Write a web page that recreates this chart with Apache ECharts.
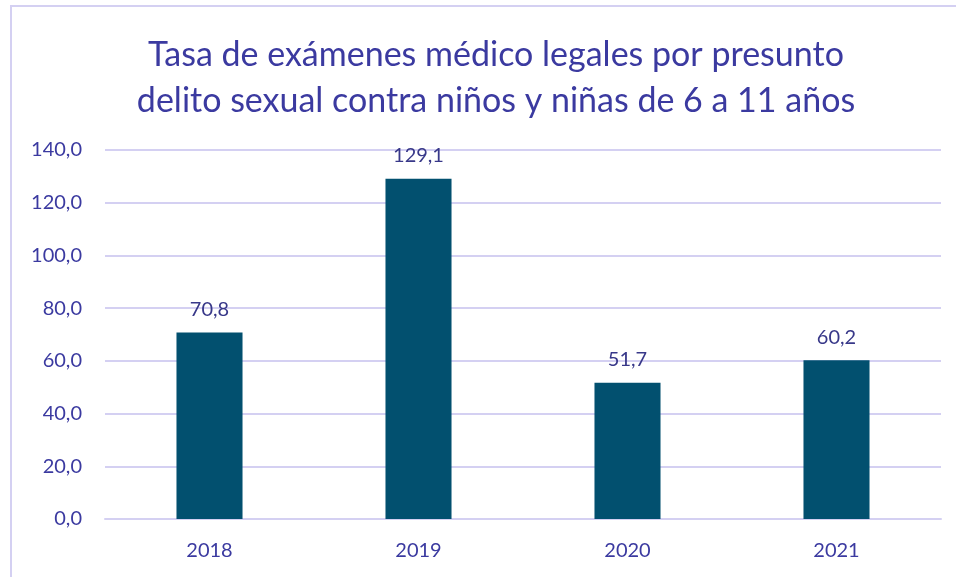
<!DOCTYPE html>
<html>
<head>
<meta charset="utf-8">
<script src="https://cdn.jsdelivr.net/npm/echarts@6/dist/echarts.min.js"></script>
<style>
  html, body { margin: 0; padding: 0; background: #fff; overflow: hidden; }
  #frame { position: absolute; left: 10px; top: 5px; width: 960px; height: 600px; border-top: 2px solid #D4D0F2; border-left: 2px solid #D4D0F2; }
  #main { position: absolute; left: 0; top: 0; width: 956px; height: 577px; }
</style>
</head>
<body>
<div id="frame"></div>
<div id="main"></div>
<script>
var years = ['2018', '2019', '2020', '2021'];
var rates = [70.8, 129.1, 51.7, 60.2];
var titleLines = ['Tasa de exámenes médico legales por presunto', 'delito sexual contra niños y niñas de 6 a 11 años'];

var textColor = '#3B3AA0';
var fmt = function (v) { return Number(v).toFixed(1).replace('.', ','); };

var myChart = echarts.init(document.getElementById('main'));
var option = {
    animation: false,
    title: {
        text: titleLines.join('\n'),
        left: 491,
        top: 27,
        textAlign: 'center',
        textStyle: {
            color: textColor,
            fontFamily: 'Lato',
            fontWeight: 'normal',
            fontSize: 34,
            lineHeight: 46
        }
    },
    grid: {
        left: 105,
        right: 15,
        top: 150,
        bottom: 58
    },
    xAxis: {
        type: 'category',
        data: years,
        axisLine: { lineStyle: { color: '#D4D0F2', width: 2 } },
        axisTick: { show: false },
        axisLabel: { color: textColor, fontFamily: 'Lato', fontSize: 20, margin: 22 }
    },
    yAxis: {
        type: 'value',
        min: 0,
        max: 140,
        interval: 20,
        axisLine: { show: false },
        axisTick: { show: false },
        splitLine: { lineStyle: { color: '#D4D0F2', width: 2 } },
        axisLabel: { color: textColor, fontFamily: 'Lato', fontSize: 20, margin: 23, formatter: fmt }
    },
    series: [{
        type: 'bar',
        data: rates,
        barWidth: '31.6%',
        itemStyle: { color: '#02506F' },
        label: {
            show: true,
            position: 'top',
            distance: 13,
            color: '#383889',
            fontFamily: 'Lato',
            fontSize: 20,
            formatter: function (p) { return fmt(p.value); }
        }
    }]
};
myChart.setOption(option);
</script>
</body>
</html>
